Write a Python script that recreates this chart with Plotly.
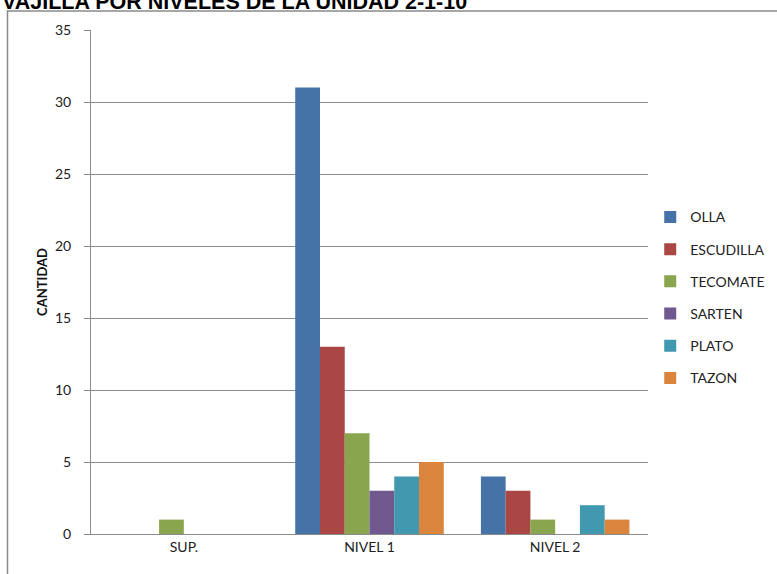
import plotly.graph_objects as go

# data
categories = ["SUP.", "NIVEL 1", "NIVEL 2"]
series_names = ["OLLA", "ESCUDILLA", "TECOMATE", "SARTEN", "PLATO", "TAZON"]
olla = [0, 31, 4]
escudilla = [0, 13, 3]
tecomate = [1, 7, 1]
sarten = [0, 3, 0]
plato = [0, 4, 2]
tazon = [0, 5, 1]
y_ticks = [0, 5, 10, 15, 20, 25, 30, 35]

values = [olla, escudilla, tecomate, sarten, plato, tazon]
colors = ["#4572A7", "#AA4643", "#89A54E", "#71588F", "#4198AF", "#DB843D"]

W, H = 777, 574
L, R, T, B = 91, 129, 30, 40
pw, ph = W - L - R, H - T - B

fig = go.Figure()
for name, vals, col in zip(series_names, values, colors):
    fig.add_trace(go.Bar(x=categories, y=vals, name=name, marker_color=col,
                         marker_line_width=0, legendgroup=name))

fig.update_layout(
    width=W, height=H,
    margin=dict(l=L, r=R, t=T, b=B, autoexpand=False),
    paper_bgcolor="white", plot_bgcolor="white",
    barmode="group", bargap=0.2, bargroupgap=0,
    font=dict(family="Lato, Open Sans, sans-serif", size=14, color="#222"),
    legend=dict(x=1.004, y=0.66, xanchor="left", yanchor="top",
                font=dict(size=14), tracegroupgap=11, bgcolor="rgba(0,0,0,0)"),
    showlegend=True,
)
fig.update_yaxes(range=[0, 35], tickvals=y_ticks, showgrid=True, gridcolor="#8c8c8c",
                 gridwidth=1, showline=True, linecolor="#8c8c8c", linewidth=1,
                 ticks="outside", ticklen=6, tickcolor="#8c8c8c",
                 zeroline=False, ticklabelstandoff=10, automargin=False,
                 title=dict(text="<b>CANTIDAD</b>", font=dict(size=13, color="#111"),
                            standoff=4))
fig.update_xaxes(showline=True, linecolor="#8c8c8c", linewidth=1, ticks="",
                 showgrid=False, tickfont=dict(size=14), automargin=False)

# chart title, clipped at the top like the original
fig.add_annotation(text="<b>VAJILLA POR NIVELES DE LA UNIDAD 2-1-10</b>",
                   xref="paper", yref="paper", x=-L / pw, y=(H - B - 16) / ph,
                   xanchor="left", yanchor="bottom", showarrow=False,
                   font=dict(family="Liberation Sans, Arial", size=21.5, color="black"))

# chart-area frame
fig.add_shape(type="rect", xref="paper", yref="paper",
              x0=(7.5 - L) / pw, x1=(W + 5 - L) / pw,
              y0=-(B + 5) / ph, y1=(H - B - 11) / ph,
              line=dict(color="#8a8a8a", width=1.5), layer="below")

# drop the default page margin so the figure sits at the window's corner
fig.write_html("out.html", config={"displayModeBar": False},
               post_script="document.body.style.margin='0';")
